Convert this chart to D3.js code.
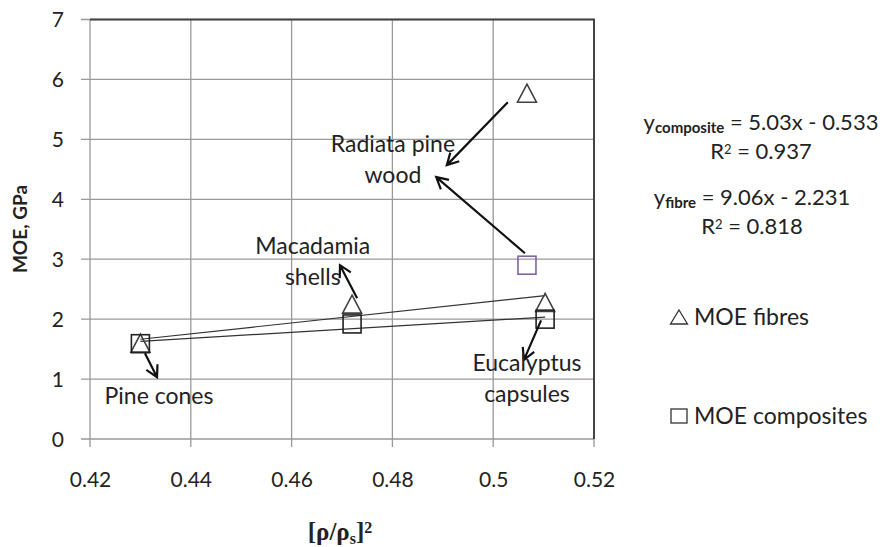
<!DOCTYPE html>
<html>
<head>
<meta charset="utf-8">
<script src="https://cdn.jsdelivr.net/npm/d3@7"></script>
<style>
  body { margin: 0; background: #fff; }
  svg { font-family: Lato, "Open Sans", sans-serif; }
  text { fill: #222; }
  text.serif, text.serif tspan { font-family: "Liberation Serif", "Times New Roman", "DejaVu Serif", serif; }
</style>
</head>
<body>
<script>
// values
var categories = ["Pine cones", "Macadamia shells", "Eucalyptus capsules", "Radiata pine wood"];
var density = [0.43, 0.472, 0.5103, 0.5067];          // [rho/rho_s]^2
var moeFibres = [1.6, 2.25, 2.28, 5.77];               // GPa
var moeComposites = [1.59, 1.92, 2.0, 2.9];            // GPa
var xTicks = [0.42, 0.44, 0.46, 0.48, 0.5, 0.52];
var yTicks = [0, 1, 2, 3, 4, 5, 6, 7];

// linear fits over the first three materials
var fitNames = ["composite", "fibre"];
var fitSlopes = [5.03, 9.06];
var fitIntercepts = [-0.533, -2.231];
var fitR2 = [0.937, 0.818];

// annotation labels and arrows, in data units
var labelLines = [["Pine cones"], ["Macadamia", "shells"], ["Eucalyptus", "capsules"], ["Radiata pine", "wood"]];
var labelX = [0.4337, 0.4642, 0.5067, 0.4801];
var labelY = [0.72, 3.22, 1.27, 4.93];
var arrows = [
  [0.4309, 1.43, 0.4333, 1.03],
  [0.4730, 2.35, 0.4696, 2.90],
  [0.5095, 1.98, 0.5061, 1.32],
  [0.5029, 5.62, 0.4908, 4.57],
  [0.5063, 3.10, 0.4887, 4.37]
];

var W = 886, H = 547;
var svg = d3.select("body").append("svg").attr("width", W).attr("height", H);

var x = d3.scaleLinear().domain([0.42, 0.52]).range([90, 594]);
var y = d3.scaleLinear().domain([0, 7]).range([439, 19.5]);

// grid
var grid = svg.append("g");
grid.selectAll("line.v").data(xTicks).enter().append("line")
  .attr("x1", d => x(d)).attr("x2", d => x(d))
  .attr("y1", y(7)).attr("y2", y(0) + 8)
  .attr("stroke", "#999").attr("stroke-width", 1.3);
grid.selectAll("line.h").data(yTicks).enter().append("line")
  .attr("x1", x(0.42) - 9).attr("x2", x(0.52))
  .attr("y1", d => y(d)).attr("y2", d => y(d))
  .attr("stroke", "#999").attr("stroke-width", 1.3);

// top and right border of plot area
svg.append("path")
  .attr("d", "M" + x(0.42) + "," + y(7) + "H" + x(0.52) + "V" + y(0))
  .attr("fill", "none").attr("stroke", "#444").attr("stroke-width", 2);

// axes (labels only, lines drawn by grid)
var ax = svg.append("g").attr("transform", "translate(0," + y(0) + ")")
  .call(d3.axisBottom(x).tickValues(xTicks).tickSize(0).tickFormat(d => String(d)));
ax.select(".domain").remove();
ax.selectAll("text").attr("y", 41).attr("dy", "0.35em")
  .style("font-size", "21px").attr("fill", "#222");

var ay = svg.append("g").attr("transform", "translate(" + x(0.42) + ",0)")
  .call(d3.axisLeft(y).tickValues(yTicks).tickSize(0).tickFormat(d => String(d)));
ay.select(".domain").remove();
ay.selectAll("text").attr("x", -26).attr("dy", "0.35em")
  .style("font-size", "21px").attr("fill", "#222");
ax.attr("font-family", null); ay.attr("font-family", null);

// axis titles
svg.append("text")
  .attr("transform", "translate(20,229) rotate(-90)")
  .attr("text-anchor", "middle").attr("dy", "0.35em")
  .style("font-size", "19px").style("font-weight", "bold")
  .text("MOE, GPa");

var xt = svg.append("text").attr("class", "serif")
  .attr("x", 340).attr("y", 540).attr("text-anchor", "middle")
  .style("font-size", "25px").style("font-weight", "bold");
xt.append("tspan").text("[ρ/ρ");
xt.append("tspan").attr("baseline-shift", "-25%").style("font-size", "16px").text("s");
xt.append("tspan").text("]");
xt.append("tspan").attr("baseline-shift", "45%").style("font-size", "16px").text("2");

// trend lines over the first three materials
var x0 = d3.min(density.slice(0, 3)), x1 = d3.max(density.slice(0, 3));
svg.selectAll("line.fit").data(fitSlopes).enter().append("line")
  .attr("x1", x(x0)).attr("x2", x(x1))
  .attr("y1", (d, i) => y(d * x0 + fitIntercepts[i]))
  .attr("y2", (d, i) => y(d * x1 + fitIntercepts[i]))
  .attr("stroke", "#333").attr("stroke-width", 1.2);

// markers
var tri = "M0,-9L9.5,9L-9.5,9Z";
svg.selectAll("path.fib").data(moeFibres).enter().append("path")
  .attr("d", tri)
  .attr("transform", (d, i) => "translate(" + x(density[i]) + "," + y(d) + ")")
  .attr("fill", "none").attr("stroke", "#404040").attr("stroke-width", 1.6);
svg.selectAll("rect.comp").data(moeComposites).enter().append("rect")
  .attr("x", (d, i) => x(density[i]) - 9).attr("y", d => y(d) - 9)
  .attr("width", 18).attr("height", 18)
  .attr("fill", "none")
  .attr("stroke", (d, i) => i === 3 ? "#8064a2" : "#222").attr("stroke-width", 1.6);

// arrows
function arrowHead(a) {
  var sx = x(a[0]), sy = y(a[1]), ex = x(a[2]), ey = y(a[3]);
  var ang = Math.atan2(ey - sy, ex - sx), len = 13, spread = 0.5;
  var p1 = [ex - len * Math.cos(ang - spread), ey - len * Math.sin(ang - spread)];
  var p2 = [ex - len * Math.cos(ang + spread), ey - len * Math.sin(ang + spread)];
  return "M" + sx + "," + sy + "L" + ex + "," + ey +
    "M" + p1 + "L" + ex + "," + ey + "L" + p2;
}
svg.selectAll("path.arrow").data(arrows).enter().append("path")
  .attr("d", arrowHead)
  .attr("fill", "none").attr("stroke", "#111").attr("stroke-width", 2.2)
  .attr("stroke-linejoin", "miter");

// annotation labels
labelLines.forEach(function(lines, i) {
  var t = svg.append("text").attr("text-anchor", "middle").style("font-size", "23px");
  lines.forEach(function(s, j) {
    t.append("tspan").attr("x", x(labelX[i])).attr("y", y(labelY[i]) + j * 31)
      .attr("dy", "0.35em").text(s);
  });
});

// fit equations
var eqX = [761, 752], eqY = [122, 197];
fitNames.forEach(function(n, i) {
  var e = svg.append("text").attr("x", eqX[i]).attr("y", eqY[i]).attr("dy", "0.35em")
    .attr("text-anchor", "middle").style("font-size", "22px");
  e.append("tspan").text("y");
  e.append("tspan").attr("baseline-shift", "-22%").style("font-size", "15px").style("font-weight", "bold").text(n);
  e.append("tspan").text(" = " + fitSlopes[i].toFixed(2) + "x - " + Math.abs(fitIntercepts[i]).toFixed(3));
  var r = svg.append("text").attr("x", eqX[i]).attr("y", eqY[i] + 29).attr("dy", "0.35em")
    .attr("text-anchor", "middle").style("font-size", "22px");
  r.append("tspan").text("R");
  r.append("tspan").attr("baseline-shift", "40%").style("font-size", "13px").text("2");
  r.append("tspan").text(" = " + fitR2[i].toFixed(3));
});

// legend
var legNames = ["MOE fibres", "MOE composites"];
var legY = [317, 416];
var leg = svg.append("g");
leg.append("path").attr("d", "M0,-7L8.5,7L-8.5,7Z")
  .attr("transform", "translate(679," + legY[0] + ")")
  .attr("fill", "none").attr("stroke", "#333").attr("stroke-width", 1.3);
leg.append("rect").attr("x", 671).attr("y", legY[1] - 7).attr("width", 16).attr("height", 14)
  .attr("fill", "none").attr("stroke", "#333").attr("stroke-width", 1.3);
leg.selectAll("text").data(legNames).enter().append("text")
  .attr("x", 694).attr("y", (d, i) => legY[i]).attr("dy", "0.35em")
  .style("font-size", "23px").text(d => d);
</script>
</body>
</html>
